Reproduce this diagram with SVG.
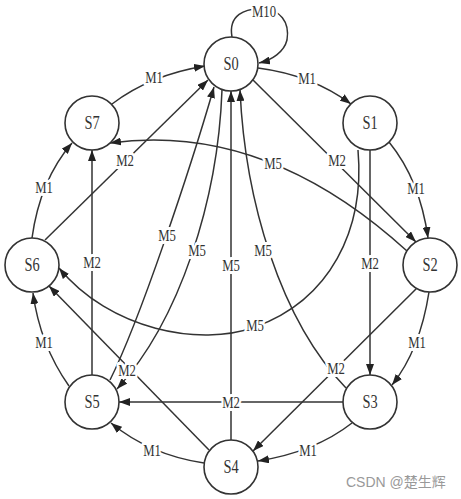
<svg xmlns="http://www.w3.org/2000/svg" width="461" height="499" viewBox="0 0 461 499">
<defs>
<marker id="arr" markerUnits="userSpaceOnUse" markerWidth="11" markerHeight="8" refX="11" refY="4" orient="auto">
<path d="M0,0 L11,4 L0,8 z" fill="#222"/>
</marker>
<style>
.node circle{fill:#fff;stroke:#333;stroke-width:1.6}
.node text{font-family:"Liberation Serif",serif;font-size:18px;fill:#333;text-anchor:middle;dominant-baseline:central;transform-box:fill-box;transform-origin:center;transform:scaleX(0.8)}
#edges path{fill:none;stroke:#333;stroke-width:1.5;marker-end:url(#arr)}
#edges text{font-family:"Liberation Serif",serif;font-size:17px;fill:#333;text-anchor:middle;dominant-baseline:central;stroke:#fff;stroke-width:6;paint-order:stroke;stroke-linejoin:round;transform-box:fill-box;transform-origin:center;transform:scaleX(0.75)}
.wm{font-family:"Liberation Sans","Noto Sans CJK SC",sans-serif;font-size:14px;fill:#999}
</style>
</defs>
<rect width="461" height="499" fill="#fff"/>
<g id="edges">
<!-- M10 self loop -->
<path d="M 232,37 C 228,15 245,8 262,9 C 280,9 290,22 287,40 C 284,52 272,60 259,63"/>
<!-- M1 ring -->
<path d="M 258,68 Q 312,75 351,104"/>
<path d="M 389,142 Q 420,180 428,238"/>
<path d="M 429,292 Q 420,350 392,385"/>
<path d="M 352,423 Q 315,452 258,461"/>
<path d="M 204,463 Q 150,455 111,423"/>
<path d="M 69,386 Q 40,345 33,293"/>
<path d="M 32,238 Q 40,180 72,143"/>
<path d="M 112,104 Q 150,75 205,66"/>
<!-- M2 -->
<path d="M 253,80 L 416,242"/>
<path d="M 370,150 L 370,375"/>
<path d="M 417,288 L 253,451"/>
<path d="M 343,402 L 119,402"/>
<path d="M 209,450 L 49,286"/>
<path d="M 92,375 L 92,150"/>
<path d="M 45,240 L 208,80"/>
<!-- M5 -->
<path d="M 407,251 C 340,190 240,125 110,143"/>
<path d="M 358,150 C 365,230 330,300 255,327 C 200,347 110,330 59,268"/>
<path d="M 222,90 C 218,200 180,320 117,389"/>
<path d="M 110,380 C 140,320 190,170 214,87"/>
<path d="M 231,440 L 231,91"/>
<path d="M 346,388 C 280,320 245,200 240,90"/>
<!-- labels -->
<text x="264" y="11">M10</text>
<text x="307" y="78">M1</text>
<text x="416" y="188">M1</text>
<text x="417" y="342">M1</text>
<text x="308" y="450">M1</text>
<text x="152" y="450">M1</text>
<text x="44" y="342">M1</text>
<text x="44" y="187">M1</text>
<text x="154" y="77">M1</text>
<text x="337" y="160">M2</text>
<text x="370" y="263">M2</text>
<text x="336" y="368">M2</text>
<text x="231" y="402">M2</text>
<text x="127" y="370">M2</text>
<text x="92" y="262">M2</text>
<text x="125" y="160">M2</text>
<text x="273" y="163">M5</text>
<text x="255" y="325">M5</text>
<text x="167" y="235">M5</text>
<text x="197" y="250">M5</text>
<text x="231" y="265">M5</text>
<text x="263" y="250">M5</text>
</g>
<g id="S0" class="node"><circle cx="231" cy="64" r="27"/><text x="231" y="64">S0</text></g>
<g id="S1" class="node"><circle cx="370" cy="123" r="27"/><text x="370" y="123">S1</text></g>
<g id="S2" class="node"><circle cx="430" cy="265" r="27"/><text x="430" y="265">S2</text></g>
<g id="S3" class="node"><circle cx="370" cy="402" r="27"/><text x="370" y="402">S3</text></g>
<g id="S4" class="node"><circle cx="231" cy="467" r="27"/><text x="231" y="467">S4</text></g>
<g id="S5" class="node"><circle cx="92" cy="402" r="27"/><text x="92" y="402">S5</text></g>
<g id="S6" class="node"><circle cx="32" cy="265" r="27"/><text x="32" y="265">S6</text></g>
<g id="S7" class="node"><circle cx="92" cy="123" r="27"/><text x="92" y="123">S7</text></g>
<text class="wm" x="346" y="487">CSDN @楚生辉</text>
</svg>
